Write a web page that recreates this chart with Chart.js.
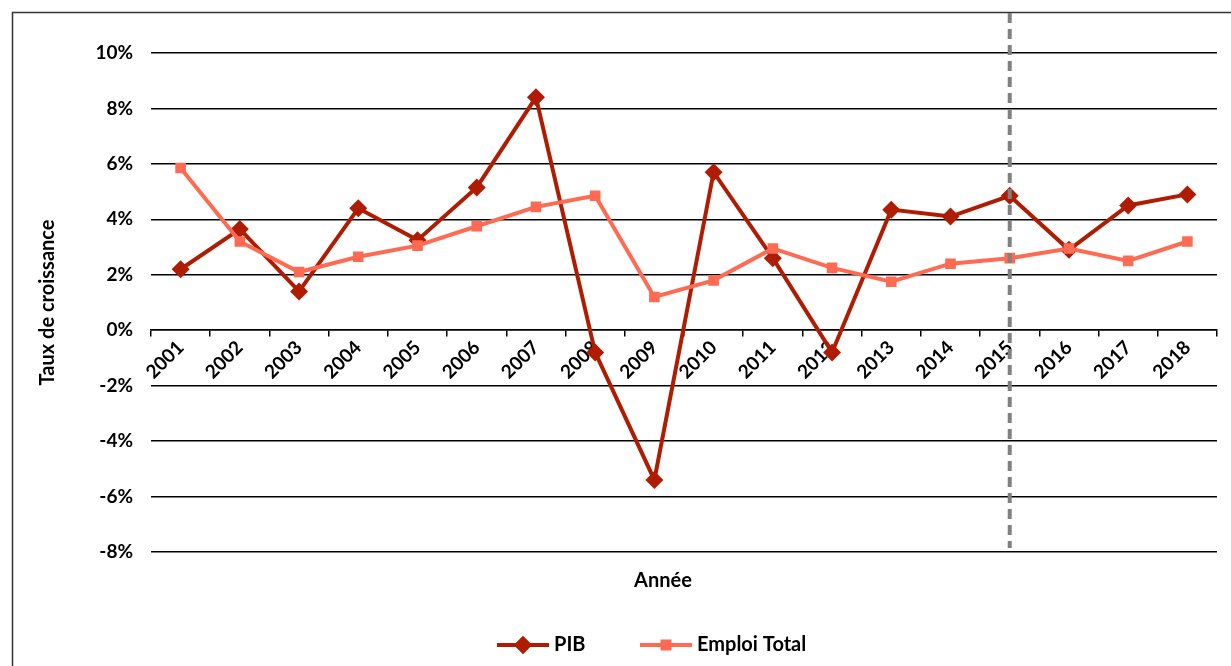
<!DOCTYPE html>
<html>
<head>
<meta charset="utf-8">
<title>Taux de croissance PIB et emploi</title>
<script src="https://cdn.jsdelivr.net/npm/chart.js@4.4.0/dist/chart.umd.min.js"></script>
<style>
    html, body { margin: 0; padding: 0; background: #fff; }
    #wrap { width: 1231px; height: 666px; position: relative; }
</style>
</head>
<body>
<div id="wrap"><canvas id="growthChart" width="1231" height="666"></canvas></div>
<script>
// Growth rates (%) by year
const years = ['2001', '2002', '2003', '2004', '2005', '2006', '2007', '2008', '2009',
               '2010', '2011', '2012', '2013', '2014', '2015', '2016', '2017', '2018'];
const pib = [2.2, 3.65, 1.4, 4.4, 3.25, 5.15, 8.4, -0.8, -5.4,
             5.7, 2.6, -0.8, 4.35, 4.1, 4.85, 2.9, 4.5, 4.9];
const emploiTotal = [5.85, 3.2, 2.1, 2.65, 3.05, 3.75, 4.45, 4.85, 1.2,
                     1.8, 2.95, 2.25, 1.75, 2.4, 2.6, 2.95, 2.5, 3.2];
const yTickValues = [-8, -6, -4, -2, 0, 2, 4, 6, 8, 10];
const projectionStart = '2015';

const PIB_COLOR = '#B01C02';
const EMPLOI_COLOR = '#FF6A52';
const FONT = 'Lato, "Open Sans", sans-serif';

const decorations = {
    id: 'decorations',
    beforeDraw(chart) {
        const ctx = chart.ctx;
        ctx.save();
        ctx.fillStyle = '#fff';
        ctx.fillRect(0, 0, chart.width, chart.height);
        // outer frame (left and top edges)
        ctx.strokeStyle = '#333';
        ctx.lineWidth = 1.5;
        ctx.beginPath();
        ctx.moveTo(12.5, chart.height);
        ctx.lineTo(12.5, 12.5);
        ctx.lineTo(chart.width, 12.5);
        ctx.stroke();
        ctx.restore();
    },
    afterDatasetsDraw(chart) {
        // dashed marker at the start of the projection period
        const ctx = chart.ctx;
        const x = chart.scales.x.getPixelForValue(years.indexOf(projectionStart));
        ctx.save();
        ctx.strokeStyle = '#808080';
        ctx.lineWidth = 4;
        ctx.setLineDash([10, 6]);
        ctx.beginPath();
        ctx.moveTo(x, 13);
        ctx.lineTo(x, chart.chartArea.bottom - 4);
        ctx.stroke();
        ctx.restore();
    },
    afterDraw(chart) {
        const ctx = chart.ctx;
        ctx.save();
        ctx.fillStyle = '#000';
        ctx.font = 'bold 20px ' + FONT;
        ctx.textAlign = 'center';
        ctx.textBaseline = 'middle';
        ctx.fillText('Année', 663, 581);

        // legend: line with marker, then label
        const items = [
            { label: 'PIB', color: PIB_COLOR, style: 'rectRot', radius: 9, x: 497 },
            { label: 'Emploi Total', color: EMPLOI_COLOR, style: 'rect', radius: 7.5, x: 640 }
        ];
        const ly = 645;
        items.forEach(it => {
            ctx.strokeStyle = it.color;
            ctx.lineWidth = 4;
            ctx.setLineDash([]);
            ctx.beginPath();
            ctx.moveTo(it.x, ly);
            ctx.lineTo(it.x + 52, ly);
            ctx.stroke();
            ctx.fillStyle = it.color;
            Chart.helpers.drawPoint(ctx, { pointStyle: it.style, radius: it.radius, borderWidth: 0 }, it.x + 26, ly);
            ctx.fill();
            ctx.fillStyle = '#000';
            ctx.textAlign = 'left';
            ctx.fillText(it.label, it.x + 57, ly);
        });
        ctx.restore();
    }
};

const growthChart = new Chart(document.getElementById('growthChart').getContext('2d'), {
    type: 'line',
    data: {
        labels: years,
        datasets: [{
            label: 'PIB',
            data: pib,
            borderColor: PIB_COLOR,
            backgroundColor: PIB_COLOR,
            borderWidth: 4,
            pointStyle: 'rectRot',
            pointRadius: 9,
            pointBorderWidth: 0,
            tension: 0,
            order: 1
        }, {
            label: 'Emploi Total',
            data: emploiTotal,
            borderColor: EMPLOI_COLOR,
            backgroundColor: EMPLOI_COLOR,
            borderWidth: 4,
            pointStyle: 'rect',
            pointRadius: 7.5,
            pointBorderWidth: 0,
            tension: 0,
            order: 0
        }]
    },
    options: {
        responsive: false,
        animation: false,
        devicePixelRatio: 1,
        layout: {
            padding: { left: 36, top: 53, right: 14, bottom: 114 }
        },
        plugins: {
            legend: { display: false },
            tooltip: { enabled: false }
        },
        scales: {
            x: {
                position: { y: 0 },
                offset: true,
                grid: {
                    drawOnChartArea: false,
                    drawTicks: true,
                    tickLength: 6,
                    color: '#000',
                    lineWidth: 1.5,
                    offset: true
                },
                border: { display: true, color: '#000', width: 1.5 },
                ticks: {
                    color: '#000',
                    font: { family: FONT, size: 19, weight: 'bold' },
                    minRotation: 45,
                    maxRotation: 45,
                    autoSkip: false,
                    padding: 0
                }
            },
            y: {
                min: yTickValues[0],
                max: yTickValues[yTickValues.length - 1],
                afterBuildTicks(scale) {
                    scale.ticks = yTickValues.map(v => ({ value: v }));
                },
                afterFit(scale) {
                    scale.width = 151 - 36;
                },
                grid: {
                    color: '#000',
                    lineWidth: 1.5,
                    drawTicks: false
                },
                border: { display: false },
                ticks: {
                    color: '#000',
                    padding: 18,
                    font: { family: FONT, size: 19, weight: 'bold' },
                    callback: v => v + '%'
                },
                title: {
                    display: true,
                    text: 'Taux de croissance',
                    color: '#000',
                    padding: 0,
                    font: { family: FONT, size: 20, weight: 'bold' }
                }
            }
        }
    },
    plugins: [decorations]
});
</script>
</body>
</html>
